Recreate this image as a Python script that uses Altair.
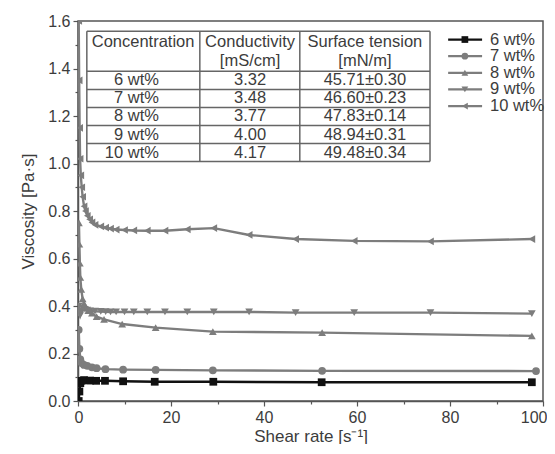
import altair as alt
import pandas as pd

series = ["6 wt%", "7 wt%", "8 wt%", "9 wt%", "10 wt%"]
colors = ["#111111", "#7d7d7d", "#7d7d7d", "#7d7d7d", "#7d7d7d"]
shapes = ["square", "circle", "triangle-up", "triangle-down", "triangle-left"]

x6 = [0.15, 0.3, 0.5, 0.8, 1.3, 2.6, 3.9, 5.8, 9.7, 16.5, 29.1, 52.4, 97.6]
y6 = [0.0, 0.04, 0.075, 0.085, 0.088, 0.086, 0.085, 0.085, 0.083, 0.081, 0.081, 0.079, 0.079]

x7 = [0.15, 0.3, 0.5, 0.8, 1.3, 2.0, 3.0, 4.0, 5.9, 9.7, 16.7, 29.0, 52.5, 98.5]
y7 = [0.30, 0.22, 0.175, 0.158, 0.152, 0.148, 0.142, 0.138, 0.134, 0.132, 0.131, 0.129, 0.127, 0.126]

x8 = [0.2, 0.3, 0.4, 0.5, 0.7, 1.0, 1.3, 1.7, 2.2, 3.0, 4.0, 5.6, 9.5, 16.7, 29.0, 52.5, 97.6]
y8 = [0.75, 0.66, 0.58, 0.52, 0.47, 0.43, 0.41, 0.395, 0.38, 0.37, 0.355, 0.344, 0.324, 0.309, 0.292, 0.288, 0.274]

x9 = [0.2, 0.3, 0.45, 0.6, 0.8, 1.0, 1.5, 2.0, 2.6, 3.66, 4.9, 5.95, 7.0, 8.2, 10, 12, 14.9, 18.7,
      23.5, 29.2, 36.8, 46.8, 59.4, 75.8, 97.6]
y9 = [0.40, 0.37, 0.36, 0.37, 0.38, 0.39, 0.386, 0.383, 0.38, 0.378, 0.377, 0.376, 0.375, 0.375,
      0.375, 0.375, 0.375, 0.375, 0.375, 0.375, 0.375, 0.372, 0.372, 0.372, 0.368]

x10 = [0.15, 0.25, 0.35, 0.45, 0.6, 0.8, 1.0, 1.3, 1.6, 2.0, 2.5, 3.0, 3.66, 4.9, 5.95, 7.0, 8.2, 10,
       12, 14.9, 18.7, 23.5, 29.2, 36.8, 46.8, 59.4, 75.8, 97.6]
y10 = [1.6, 1.35, 1.15, 1.02, 0.95, 0.9, 0.86, 0.82, 0.8, 0.78, 0.765, 0.752, 0.742, 0.735, 0.73,
       0.726, 0.722, 0.72, 0.718, 0.717, 0.717, 0.723, 0.728, 0.699, 0.682, 0.674, 0.672, 0.682]

# inset table
tab_header1 = ["Concentration", "Conductivity", "Surface tension"]
tab_header2 = ["[mS/cm]", "[mN/m]"]
tab_conc = ["6 wt%", "7 wt%", "8 wt%", "9 wt%", "10 wt%"]
tab_cond = ["3.32", "3.48", "3.77", "4.00", "4.17"]
tab_surf = ["45.71±0.30", "46.60±0.23", "47.83±0.14", "48.94±0.31", "49.48±0.34"]

# table geometry in data units
tab_xs = [1.9, 26.2, 47.7, 75.7]
tab_ys = [1.557, 1.388, 1.312, 1.236, 1.160, 1.084, 1.008]
row_centers = [1.350, 1.274, 1.198, 1.122, 1.046]
head1_y, head2_y = 1.512, 1.432
head_x = [14.0, 37.0, 61.7]
col_text_x = [17.4, 37.0, 61.7]

# legend geometry in data units
leg_x0, leg_x1, leg_xm, leg_xt = 79.6, 86.9, 83.2, 88.6
leg_ys = [1.522, 1.452, 1.382, 1.312, 1.242]

FONT = "Liberation Sans"
TXT = "#3c3c3c"
AX = "#555555"
TAB_FS = 16.5

rows = []
for name, xs, ys in zip(series, [x6, x7, x8, x9, x10], [y6, y7, y8, y9, y10]):
    for i, (a, b) in enumerate(zip(xs, ys)):
        rows.append({"series": name, "x": a, "y": b, "order": i})
df = pd.DataFrame(rows)

xscale = alt.Scale(domain=[0, 100], nice=False, zero=False)
yscale = alt.Scale(domain=[0, 1.6], nice=False, zero=False)
cscale = alt.Scale(domain=series, range=colors)
sscale = alt.Scale(domain=series, range=shapes)

ax_common = dict(grid=False, domainColor=AX, domainWidth=1.5, tickColor=AX, tickWidth=1.2,
                 labelFont=FONT, labelFontSize=16, labelColor=TXT,
                 titleFont=FONT, titleFontSize=17, titleColor=TXT, titleFontWeight="normal")

x_major = alt.Axis(values=[0, 20, 40, 60, 80, 100], tickSize=5, labelPadding=3, title="Shear rate [s⁻¹]",
                   titlePadding=3, orient="bottom", labelFlush=True, labelFlushOffset=4, **ax_common)
y_major = alt.Axis(values=[0, 0.2, 0.4, 0.6, 0.8, 1.0, 1.2, 1.4, 1.6], format=".1f", tickSize=5,
                   labelPadding=3, title="Viscosity [Pa·s]", titlePadding=10, orient="left",
                   labelFlush=False, **ax_common)
x_minor = alt.Axis(values=[10, 30, 50, 70, 90], tickSize=3, labels=False, title=None, domain=False,
                   grid=False, tickColor=AX, tickWidth=1.2, orient="bottom")
y_minor = alt.Axis(values=[0.1, 0.3, 0.5, 0.7, 0.9, 1.1, 1.3, 1.5], tickSize=3, labels=False, title=None,
                   domain=False, grid=False, tickColor=AX, tickWidth=1.2, orient="left")

lines = alt.Chart(df).mark_line(strokeWidth=2.4, clip=True).encode(
    x=alt.X("x:Q", scale=xscale, axis=x_major),
    y=alt.Y("y:Q", scale=yscale, axis=y_major),
    color=alt.Color("series:N", scale=cscale, legend=None),
    detail="series:N",
    order="order:Q",
)

points = alt.Chart(df).mark_point(filled=True, opacity=1, size=60, clip=True).encode(
    x=alt.X("x:Q", scale=xscale, axis=x_minor),
    y=alt.Y("y:Q", scale=yscale, axis=y_minor),
    color=alt.Color("series:N", scale=cscale, legend=None),
    shape=alt.Shape("series:N", scale=sscale, legend=None),
)

# table lines
hl = pd.DataFrame({"x0": [tab_xs[0]] * len(tab_ys), "x1": [tab_xs[-1]] * len(tab_ys),
                   "y0": tab_ys, "y1": tab_ys})
vl = pd.DataFrame({"x0": tab_xs, "x1": tab_xs, "y0": [tab_ys[0]] * len(tab_xs),
                   "y1": [tab_ys[-1]] * len(tab_xs)})
tl = pd.concat([hl, vl], ignore_index=True)
table_lines = alt.Chart(tl).mark_rule(color="#666666", strokeWidth=1.5).encode(
    x=alt.X("x0:Q", scale=xscale, axis=None), x2="x1:Q",
    y=alt.Y("y0:Q", scale=yscale, axis=None), y2="y1:Q",
)

head = pd.DataFrame({
    "x": head_x + head_x[1:],
    "y": [head1_y] * 3 + [head2_y] * 2,
    "t": tab_header1 + tab_header2,
})
head_text = alt.Chart(head).mark_text(font=FONT, fontSize=TAB_FS, color=TXT, baseline="middle",
                                      align="center").encode(
    x=alt.X("x:Q", scale=xscale, axis=None), y=alt.Y("y:Q", scale=yscale, axis=None), text="t:N")

conc_df = pd.DataFrame({"x": [col_text_x[0]] * 5, "y": row_centers, "t": tab_conc})
conc_text = alt.Chart(conc_df).mark_text(font=FONT, fontSize=TAB_FS, color=TXT, baseline="middle",
                                         align="right").encode(
    x=alt.X("x:Q", scale=xscale, axis=None), y=alt.Y("y:Q", scale=yscale, axis=None), text="t:N")

val_df = pd.DataFrame({"x": [col_text_x[1]] * 5 + [col_text_x[2]] * 5, "y": row_centers * 2,
                       "t": tab_cond + tab_surf})
val_text = alt.Chart(val_df).mark_text(font=FONT, fontSize=TAB_FS, color=TXT, baseline="middle",
                                       align="center").encode(
    x=alt.X("x:Q", scale=xscale, axis=None), y=alt.Y("y:Q", scale=yscale, axis=None), text="t:N")

# manual legend
leg = pd.DataFrame({"series": series, "x0": [leg_x0] * 5, "x1": [leg_x1] * 5, "xm": [leg_xm] * 5,
                    "xt": [leg_xt] * 5, "y": leg_ys})
leg_lines = alt.Chart(leg).mark_rule(strokeWidth=2.2).encode(
    x=alt.X("x0:Q", scale=xscale, axis=None), x2="x1:Q",
    y=alt.Y("y:Q", scale=yscale, axis=None),
    color=alt.Color("series:N", scale=cscale, legend=None),
)
leg_pts = alt.Chart(leg).mark_point(filled=True, opacity=1, size=45).encode(
    x=alt.X("xm:Q", scale=xscale, axis=None),
    y=alt.Y("y:Q", scale=yscale, axis=None),
    color=alt.Color("series:N", scale=cscale, legend=None),
    shape=alt.Shape("series:N", scale=sscale, legend=None),
)
leg_text = alt.Chart(leg).mark_text(font=FONT, fontSize=16.5, color=TXT, baseline="middle",
                                    align="left").encode(
    x=alt.X("xt:Q", scale=xscale, axis=None),
    y=alt.Y("y:Q", scale=yscale, axis=None),
    text="series:N",
)

chart = alt.layer(
    lines, points, table_lines, head_text, conc_text, val_text, leg_lines, leg_pts, leg_text
).resolve_axis(x="independent", y="independent").properties(
    width=465, height=380,
    autosize=alt.AutoSizeParams(type="none"),
    padding={"left": 70, "top": 13, "right": 4, "bottom": 43},
    background="white",
).configure_view(stroke="#555555", strokeWidth=1.5)

chart.save("out.html", embed_options={"renderer": "svg", "actions": False})
